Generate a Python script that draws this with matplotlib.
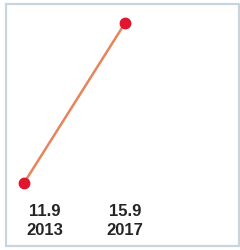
import matplotlib
matplotlib.use("Agg")
import matplotlib.pyplot as plt
from matplotlib.patches import Rectangle

years = [2013, 2017]
values = [11.9, 15.9]
value_labels = ["11.9", "15.9"]
year_labels = ["2013", "2017"]

W, H = 240, 251
fig = plt.figure(figsize=(W/100, H/100), dpi=100)
ax = fig.add_axes([0, 0, 1, 1])
ax.set_xlim(2012.05, 2021.55)
ax.set_ylim(10.225, 16.5)
ax.axis("off")

fig.patches.append(Rectangle((6/W, 1 - 247/H), 233/W, 242/H, transform=fig.transFigure,
                             fill=False, edgecolor="#c8d5de", linewidth=1.6))

ax.plot(years, values, color="#e8845a", linewidth=1.8, zorder=2)
ax.plot(years, values, linestyle="none", marker="o", markersize=7.5,
        color="#e3142e", zorder=3)

offsets = [21, 0]
for x, y, vl, yl, off in zip(years, values, value_labels, year_labels, offsets):
    ax.annotate(vl, (x, values[0]), xytext=(off * 0.72, -28 * 0.72), textcoords="offset points",
                ha="center", va="center", fontsize=12, fontweight="bold",
                family=["Liberation Sans", "DejaVu Sans"], color="#252525")
    ax.annotate(yl, (x, values[0]), xytext=(off * 0.72, -47 * 0.72), textcoords="offset points",
                ha="center", va="center", fontsize=12, fontweight="bold",
                family=["Liberation Sans", "DejaVu Sans"], color="#252525")

fig.savefig("out.png", dpi=100)
